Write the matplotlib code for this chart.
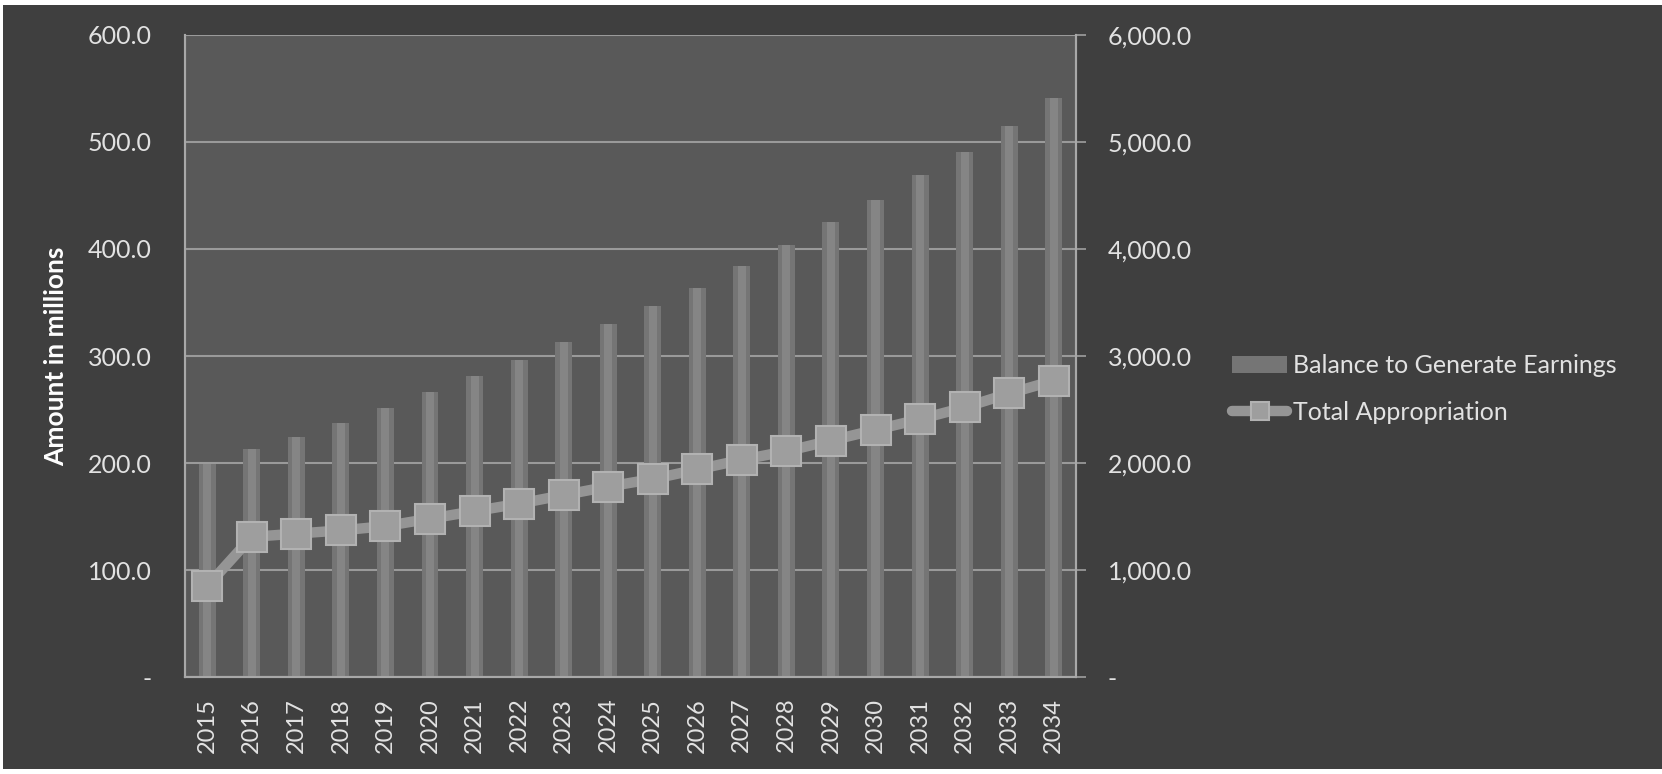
import matplotlib
matplotlib.use("Agg")
import matplotlib.pyplot as plt
from matplotlib.patches import Rectangle
from matplotlib.ticker import FuncFormatter, MultipleLocator

years = [str(y) for y in range(2015, 2035)]
balance = [1990, 2130, 2240, 2370, 2510, 2660, 2810, 2960, 3130, 3300,
           3470, 3640, 3840, 4040, 4250, 4460, 4690, 4910, 5150, 5410]
appropriation = [85, 131, 134, 137, 141, 148, 155, 162, 170, 178,
                 185, 194, 203, 211, 221, 231, 241, 252, 265, 277]

BG = "#3f3f3f"
PLOT_BG = "#595959"
TXT = "#e2e2e2"
plt.rcParams["font.family"] = ["Lato", "DejaVu Sans"]


def fmt(v, pos):
    return "-" if abs(v) < 1e-9 else f"{v:,.1f}"


fig = plt.figure(figsize=(16.62, 7.74), dpi=100)
fig.patch.set_facecolor("white")
fig.patches.append(Rectangle((0.002, 0.006), 0.998, 0.988, transform=fig.transFigure,
                             facecolor=BG, edgecolor="none", zorder=-10))

ax2 = fig.add_axes([0.1113, 0.1253, 0.5361, 0.8295])  # bars, right scale
ax = ax2.twinx()  # line, left scale
ax.yaxis.tick_left()
ax.yaxis.set_label_position("left")
ax2.yaxis.tick_right()
ax.set_zorder(ax2.get_zorder() + 1)
ax.patch.set_visible(False)
ax2.set_facecolor(PLOT_BG)

x = range(len(years))
ax2.bar(x, balance, width=0.38, color="#757575", zorder=3)
ax2.bar(x, balance, width=0.18, color="#858585", zorder=4)
ax.plot(x, appropriation, color="#959595", lw=7.5, marker="s", ms=22,
        mfc="#9e9e9e", mec="#b2b2b2", mew=1.5, solid_capstyle="round")

ax2.set_ylim(0, 6000)
ax.set_ylim(0, 600)
ax2.set_xlim(-0.5, len(years) - 0.5)
ax2.yaxis.set_major_locator(MultipleLocator(1000))
ax.yaxis.set_major_locator(MultipleLocator(100))
ax2.yaxis.set_major_formatter(FuncFormatter(fmt))
ax.yaxis.set_major_formatter(FuncFormatter(fmt))
ax2.set_axisbelow(True)
ax2.grid(axis="y", color="#9a9a9a", lw=1.5)

ax2.set_xticks(list(x))
ax2.set_xticklabels(years, rotation=90)
ax2.tick_params(axis="x", length=0, pad=15, labelsize=17, labelcolor=TXT)
ax2.tick_params(axis="y", length=7, width=1.2, color="#a0a0a0", pad=16,
                labelsize=18, labelcolor=TXT)
ax.tick_params(axis="y", length=0, pad=24, labelsize=18, labelcolor=TXT)

for a in (ax, ax2):
    a.spines["top"].set_visible(False)
    for s in ("left", "right", "bottom"):
        a.spines[s].set_color("#a8a8a8")
        a.spines[s].set_linewidth(1.5)

ax.set_ylabel("Amount in millions", color="white", fontsize=19,
              fontweight="bold", labelpad=14)

h1 = ax2.patches[0]
h2 = ax.lines[0]
fig.legend([h1, h2], ["Balance to Generate Earnings", "Total Appropriation"],
           loc="center left", bbox_to_anchor=(0.728, 0.497), frameon=False,
           fontsize=18, labelcolor=TXT, handlelength=2.2, handletextpad=0.22,
           labelspacing=0.95, markerscale=0.6)

fig.savefig("out.png", dpi=100, facecolor=fig.get_facecolor())
